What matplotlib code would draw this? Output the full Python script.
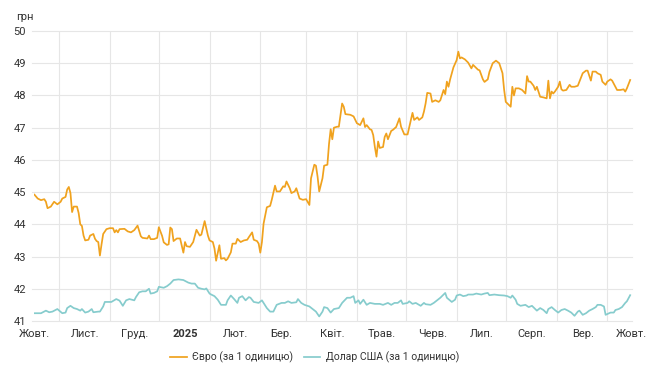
import numpy as np
import pandas as pd
import matplotlib
matplotlib.use("Agg")
import matplotlib.pyplot as plt

# ---- data (days since 2024-10-01, UAH per unit) ----
start_date = "2024-10-01"

eur_days = [0, 2, 4, 6, 7, 8, 10, 12, 14, 16, 17, 19, 20, 21, 22, 23, 24, 26, 27, 28, 29, 30, 31, 33, 34, 36, 37, 38, 39, 40,
            41, 42, 44, 46, 48, 49, 50, 51, 52, 55, 57, 59, 61, 63, 65, 66, 69, 70, 71, 73, 75, 76, 78, 79, 81, 82, 83, 84, 85, 87,
            89, 91, 92, 93, 95, 97, 99, 101, 102, 104, 106, 107, 109, 110, 111, 113, 114, 116, 117, 118, 120, 121, 123, 124, 126, 128, 130, 131, 133, 134,
            136, 137, 138, 139, 140, 142, 144, 145, 147, 148, 150, 152, 153, 154, 156, 157, 159, 160, 162, 164, 166, 168, 169, 171, 172, 173, 174, 176, 177, 179,
            180, 181, 182, 183, 185, 186, 188, 189, 190, 193, 195, 197, 199, 201, 202, 203, 205, 206, 207, 208, 209, 210, 211, 213, 214, 215, 216, 218, 219, 221,
            223, 224, 226, 228, 230, 231, 232, 234, 235, 237, 238, 239, 240, 242, 243, 245, 247, 248, 250, 251, 252, 253, 254, 255, 256, 258, 259, 260, 261, 263,
            265, 267, 268, 269, 271, 272, 274, 275, 277, 278, 280, 282, 284, 286, 287, 288, 290, 291, 292, 293, 294, 296, 298, 300, 301, 302, 303, 305, 306, 307,
            308, 309, 311, 313, 314, 315, 316, 317, 318, 320, 321, 322, 323, 325, 327, 328, 330, 332, 333, 335, 337, 338, 340, 341, 343, 344, 346, 347, 349, 350,
            352, 353, 355, 356, 358, 360, 361, 362, 364]
eur_values = [44.92, 44.80, 44.75, 44.78, 44.70, 44.50, 44.55, 44.70, 44.62, 44.70, 44.80, 44.85, 45.08, 45.16, 44.97, 44.38, 44.55, 44.55, 44.35, 44.00,
              43.95, 43.65, 43.50, 43.52, 43.65, 43.70, 43.55, 43.48, 43.45, 43.03, 43.38, 43.70, 43.85, 43.88, 43.88, 43.75, 43.82, 43.75, 43.85, 43.86,
              43.78, 43.75, 43.82, 43.96, 43.63, 43.58, 43.56, 43.65, 43.54, 43.54, 43.58, 43.91, 43.64, 43.44, 43.36, 43.38, 43.90, 43.85, 43.48, 43.56,
              43.56, 43.12, 43.45, 43.32, 43.30, 43.45, 43.83, 43.65, 43.68, 44.10, 43.65, 43.50, 43.45, 43.25, 42.87, 43.35, 42.93, 42.95, 42.88, 42.93,
              43.13, 43.40, 43.40, 43.55, 43.45, 43.50, 43.52, 43.60, 43.75, 43.52, 43.48, 43.40, 43.12, 43.45, 44.02, 44.53, 44.57, 44.76, 45.20, 45.02,
              45.02, 45.18, 45.16, 45.33, 45.12, 44.97, 45.02, 45.12, 44.80, 44.76, 44.78, 44.60, 45.43, 45.85, 45.82, 45.48, 45.02, 45.43, 45.82, 45.85,
              46.50, 46.95, 46.64, 47.00, 47.03, 47.03, 47.75, 47.65, 47.42, 47.40, 47.35, 47.14, 47.08, 47.29, 47.02, 47.08, 46.95, 46.93, 46.77, 46.40,
              46.10, 46.57, 46.37, 46.40, 46.71, 46.82, 46.64, 46.90, 46.93, 47.02, 47.29, 47.03, 46.79, 46.79, 47.24, 47.46, 47.24, 47.32, 47.24, 47.32,
              47.50, 47.75, 48.08, 48.06, 47.80, 47.85, 47.80, 47.85, 48.17, 48.04, 48.43, 48.27, 48.50, 48.68, 48.87, 49.10, 49.36, 49.15, 49.18, 49.12,
              49.02, 48.84, 48.95, 48.90, 48.80, 48.78, 48.50, 48.42, 48.50, 48.73, 49.00, 49.08, 49.00, 48.69, 48.17, 47.80, 47.70, 47.65, 48.27, 48.00,
              48.22, 48.22, 48.17, 48.06, 48.60, 48.43, 48.43, 48.30, 48.17, 48.27, 48.12, 47.96, 47.94, 47.91, 48.46, 47.91, 48.12, 48.06, 48.12, 48.27,
              48.43, 48.19, 48.15, 48.17, 48.33, 48.27, 48.27, 48.30, 48.43, 48.69, 48.77, 48.77, 48.46, 48.74, 48.74, 48.69, 48.64, 48.43, 48.33, 48.43,
              48.50, 48.46, 48.27, 48.17, 48.17, 48.19, 48.12, 48.22, 48.48]

usd_days = [0, 4, 7, 9, 11, 14, 17, 19, 20, 22, 24, 26, 28, 29, 31, 33, 35, 36, 39, 40, 42, 43, 47, 50, 52, 54, 56, 58, 61, 62,
            64, 66, 68, 70, 71, 73, 75, 76, 79, 81, 83, 85, 88, 91, 94, 96, 98, 100, 102, 104, 105, 107, 108, 110, 112, 114, 117, 118, 120, 122,
            124, 125, 127, 129, 131, 132, 134, 137, 139, 140, 142, 144, 146, 148, 151, 153, 155, 157, 160, 161, 163, 165, 168, 170, 172, 174, 176, 177, 179, 181,
            183, 186, 188, 191, 193, 195, 196, 198, 199, 201, 203, 205, 208, 211, 213, 216, 218, 220, 222, 224, 225, 228, 229, 231, 233, 236, 238, 239, 242, 244,
            247, 248, 251, 252, 255, 257, 258, 260, 262, 264, 265, 268, 270, 273, 275, 277, 278, 281, 284, 287, 289, 291, 292, 294, 295, 297, 300, 302, 304, 306,
            307, 309, 311, 313, 314, 316, 318, 320, 322, 324, 326, 328, 330, 332, 333, 335, 337, 339, 341, 343, 344, 346, 348, 349, 352, 354, 355, 357, 359, 361,
            362, 364]
usd_values = [41.24, 41.24, 41.32, 41.27, 41.29, 41.37, 41.24, 41.26, 41.40, 41.47, 41.40, 41.37, 41.32, 41.37, 41.26, 41.29, 41.37, 41.27, 41.29, 41.29,
              41.45, 41.59, 41.59, 41.68, 41.63, 41.47, 41.64, 41.68, 41.64, 41.74, 41.89, 41.92, 41.92, 42.00, 41.85, 41.87, 41.92, 42.06, 42.03, 42.08,
              42.16, 42.27, 42.29, 42.27, 42.19, 42.16, 42.16, 42.03, 42.00, 41.98, 42.01, 41.85, 41.82, 41.77, 41.66, 41.50, 41.50, 41.64, 41.79, 41.68,
              41.56, 41.72, 41.77, 41.64, 41.74, 41.72, 41.59, 41.56, 41.64, 41.56, 41.40, 41.29, 41.29, 41.50, 41.56, 41.56, 41.61, 41.56, 41.58, 41.68,
              41.56, 41.50, 41.45, 41.37, 41.29, 41.14, 41.29, 41.43, 41.40, 41.26, 41.37, 41.40, 41.56, 41.72, 41.72, 41.77, 41.56, 41.64, 41.53, 41.66,
              41.50, 41.56, 41.53, 41.53, 41.50, 41.56, 41.50, 41.56, 41.56, 41.64, 41.53, 41.56, 41.61, 41.53, 41.56, 41.47, 41.56, 41.52, 41.50, 41.56,
              41.68, 41.72, 41.87, 41.72, 41.59, 41.66, 41.79, 41.82, 41.77, 41.79, 41.82, 41.82, 41.85, 41.82, 41.85, 41.87, 41.80, 41.82, 41.80, 41.79,
              41.77, 41.72, 41.79, 41.66, 41.53, 41.47, 41.50, 41.43, 41.47, 41.37, 41.32, 41.40, 41.34, 41.24, 41.37, 41.43, 41.34, 41.26, 41.34, 41.37,
              41.32, 41.26, 41.16, 41.29, 41.32, 41.19, 41.24, 41.32, 41.37, 41.43, 41.50, 41.50, 41.45, 41.19, 41.26, 41.26, 41.34, 41.37, 41.43, 41.56,
              41.61, 41.80]

month_labels = ["Жовт.", "Лист.", "Груд.", "2025", "Лют.", "Бер.", "Квіт.", "Трав.", "Черв.", "Лип.", "Серп.", "Вер.", "Жовт."]
y_ticks = [41, 42, 43, 44, 45, 46, 47, 48, 49, 50]
series_names = ["Євро (за 1 одиницю)", "Долар США (за 1 одиницю)"]
unit_label = "грн"

# ---- styling ----
plt.rcParams["font.family"] = ["Roboto", "DejaVu Sans"]
EUR_COLOR = "#F0A21E"
USD_COLOR = "#86CCCD"
TEXT_COLOR = "#333333"
GRID_COLOR = "#E6E6E6"

fig = plt.figure(figsize=(6.5, 3.83), dpi=100)
ax = fig.add_axes([0.053, 0.162, 0.919, 0.757])

ax.plot(eur_days, eur_values, color=EUR_COLOR, lw=1.25, label=series_names[0], solid_joinstyle="round")
ax.plot(usd_days, usd_values, color=USD_COLOR, lw=1.25, label=series_names[1], solid_joinstyle="round")

t0 = pd.Timestamp(start_date)
month_starts = pd.date_range(t0, periods=len(month_labels), freq="MS")
major = [(m - t0).days for m in month_starts]
minor = [(m - t0).days + 15 for m in month_starts[:-1]]

ax.set_xlim(0, major[-1])
ax.set_ylim(y_ticks[0], y_ticks[-1])
ax.set_xticks(major)
ax.set_xticklabels(month_labels)
for lbl, txt in zip(ax.get_xticklabels(), month_labels):
    if txt == "2025":
        lbl.set_fontweight("bold")
ax.set_xticks(minor, minor=True)
ax.set_yticks(y_ticks)

ax.grid(False)
for v in minor:
    ax.axvline(v, color=GRID_COLOR, lw=0.8, zorder=0)
for v in y_ticks:
    ax.axhline(v, color=GRID_COLOR, lw=0.8, zorder=0, xmin=-0.004, clip_on=False)

for s in ax.spines.values():
    s.set_visible(False)
ax.tick_params(axis="both", which="both", length=0, labelsize=8, colors=TEXT_COLOR)
ax.tick_params(axis="x", pad=6)
ax.tick_params(axis="y", pad=6)

fig.text(0.025, 0.955, unit_label, fontsize=8, color=TEXT_COLOR, va="center", ha="left")

fig.legend(loc="center", bbox_to_anchor=(0.484, 0.067), ncol=2, frameon=False,
           fontsize=7.5, handlelength=1.6, columnspacing=1.0, handletextpad=0.5,
           labelcolor=TEXT_COLOR)

fig.savefig("out.png", dpi=100, facecolor="white")
